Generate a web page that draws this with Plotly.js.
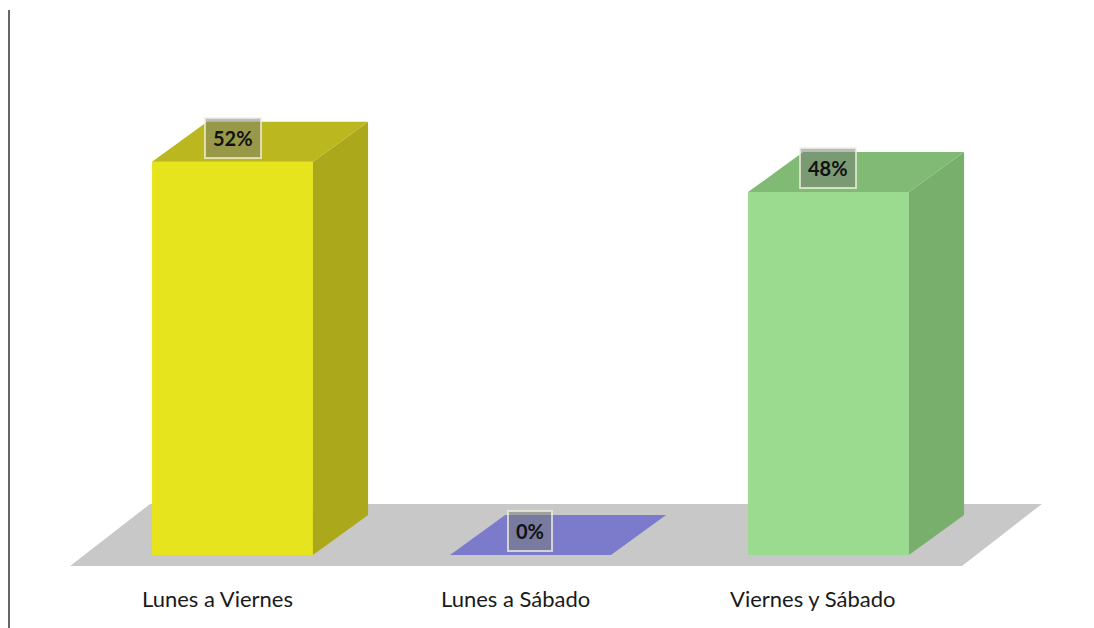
<!DOCTYPE html>
<html>
<head>
<meta charset="utf-8">
<script src="https://cdn.plot.ly/plotly-3.0.1.min.js"></script>
<style>html,body{margin:0;padding:0;background:#fff}#chart{width:1094px;height:628px}</style>
</head>
<body>
<div id="chart"></div>
<script>
const categories = ['Lunes a Viernes', 'Lunes a Sábado', 'Viernes y Sábado'];
const values = [52, 0, 48];
const valueLabels = ['52%', '0%', '48%'];

const frontColors = ['#E6E41D', '#7C7BCB', '#9BDB8F'];
const sideColors  = ['#ABA91B', '#5F5EA8', '#78AF6C'];
const topColors   = ['#BAB81E', '#7C7BCB', '#80BA75'];

// pseudo-3D geometry (in axis units)
const W = 0.54, DX = 0.185, DY = 5.3;
const xs = categories.map((c, i) => i);

const traces = [];
traces.push({
  type: 'bar', x: xs, y: values, width: W,
  marker: {color: frontColors, line: {width: 0}},
  hoverinfo: 'skip'
});
values.forEach((v, i) => {
  const l = i - W / 2, r = i + W / 2;
  traces.push({
    type: 'scatter', mode: 'lines', fill: 'toself',
    x: [r, r + DX, r + DX, r, r], y: [0, DY, v + DY, v, 0],
    fillcolor: sideColors[i], line: {width: 0, color: sideColors[i]}, hoverinfo: 'skip'
  });
  traces.push({
    type: 'scatter', mode: 'lines', fill: 'toself',
    x: [l, r, r + DX, l + DX, l], y: [v, v, v + DY, v + DY, v],
    fillcolor: topColors[i], line: {width: 0, color: topColors[i]}, hoverinfo: 'skip'
  });
});

// floor
const n = categories.length;
const fl = -0.545, fr = n - 1 + 0.448, fy = -1.46, FDX = 0.268, FDY = 8.2;
const floorPath = `M ${fl},${fy} L ${fl + FDX},${fy + FDY} L ${fr + FDX},${fy + FDY} L ${fr},${fy} Z`;

const annotations = [];
categories.forEach((c, i) => {
  annotations.push({
    x: i, y: -5.8, xref: 'x', yref: 'y', xshift: -15, text: c, showarrow: false,
    font: {family: 'Lato, "Liberation Sans", sans-serif', size: 22, color: '#1a1a1a'}
  });
});
values.forEach((v, i) => {
  annotations.push({
    x: i, y: v + DY * 0.6, xref: 'x', yref: 'y', text: valueLabels[i], showarrow: false,
    font: {family: 'Lato, "Liberation Sans", sans-serif', size: 20, color: '#111', weight: 'bold'},
    bgcolor: 'rgba(115,122,115,0.5)', bordercolor: 'rgba(240,240,225,0.75)', borderwidth: 2, borderpad: 7
  });
});

const layout = {
  width: 1094, height: 628,
  margin: {l: 0, r: 0, t: 0, b: 0, autoexpand: false},
  paper_bgcolor: '#ffffff', plot_bgcolor: '#ffffff',
  showlegend: false,
  xaxis: {range: [-0.7802, 2.891], visible: false, fixedrange: true},
  yaxis: {range: [-9.656, 73.41], visible: false, fixedrange: true},
  shapes: [
    {type: 'path', path: floorPath, xref: 'x', yref: 'y', layer: 'below',
     fillcolor: '#C8C8C8', line: {width: 0}},
    {type: 'line', xref: 'paper', yref: 'paper', x0: 9 / 1094, x1: 9 / 1094, y0: 0, y1: 0.984,
     line: {color: '#333333', width: 1.5}}
  ],
  annotations: annotations
};

Plotly.newPlot('chart', traces, layout, {displayModeBar: false, staticPlot: true});
</script>
</body>
</html>
